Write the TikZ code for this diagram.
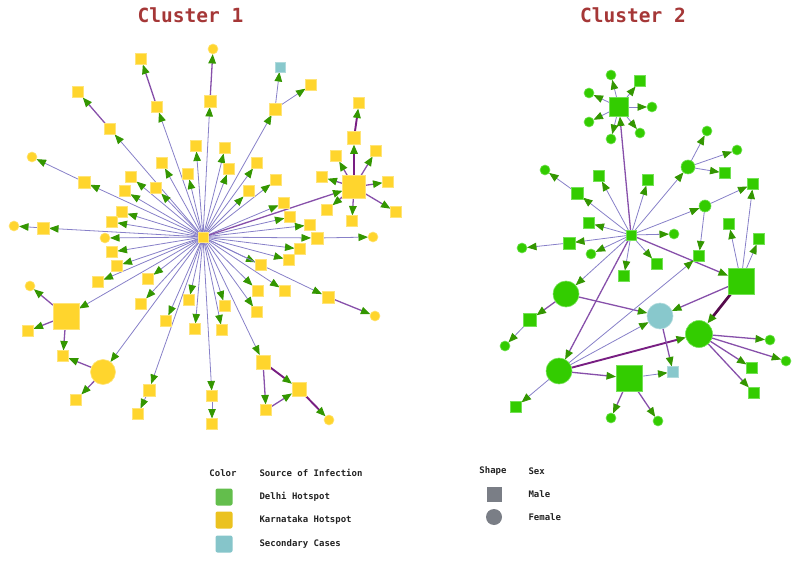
\documentclass[tikz,border=0pt]{standalone}
\usepackage{fontspec}
\newfontfamily\monof{DejaVu Sans Mono}
\usetikzlibrary{arrows.meta}
\definecolor{yel}{RGB}{255,213,45}
\definecolor{yelb}{RGB}{255,228,120}
\definecolor{grn}{RGB}{51,204,0}
\definecolor{grnb}{RGB}{115,225,85}
\definecolor{tea}{RGB}{136,200,204}
\definecolor{teab}{RGB}{175,218,220}
\definecolor{agrn}{RGB}{51,150,0}
\definecolor{lav}{RGB}{135,128,200}
\definecolor{pur}{RGB}{135,80,170}
\definecolor{dpur}{RGB}{120,30,130}
\definecolor{ddpur}{RGB}{85,10,75}
\definecolor{ttl}{RGB}{165,55,55}
\definecolor{lgrn}{RGB}{99,190,76}
\definecolor{lyel}{RGB}{235,194,31}
\definecolor{ltea}{RGB}{134,197,202}
\definecolor{lgry}{RGB}{122,126,134}
\definecolor{txt}{RGB}{35,35,35}
\pgfdeclarelayer{bg}
\pgfsetlayers{bg,main}
\tikzset{
 nd/.style={inner sep=0pt, outer sep=0pt, line width=0.6pt},
 ysq/.style={nd, rectangle, fill=yel, draw=yelb, minimum size=11pt},
 ycir/.style={nd, circle, fill=yel, draw=yelb, minimum size=10pt},
 gsq/.style={nd, rectangle, fill=grn, draw=grnb, minimum size=11pt},
 gcir/.style={nd, circle, fill=grn, draw=grnb, minimum size=10pt},
 tsq/.style={nd, rectangle, fill=tea, draw=teab, minimum size=11pt},
 tcir/.style={nd, circle, fill=tea, draw=teab, minimum size=10pt},
 arw/.style={-{Triangle[length=9.5pt,width=7.5pt,color=agrn]}},
 e1/.style={arw, draw=lav, line width=0.8pt},
 e2/.style={arw, draw=pur, line width=1.3pt},
 e3/.style={arw, draw=dpur, line width=1.9pt},
 e4/.style={arw, draw=ddpur, line width=2.7pt},
 ttlf/.style={font=\monof\bfseries\fontsize{19.5}{22}\selectfont, text=ttl},
 legf/.style={font=\monof\bfseries\fontsize{9}{11}\selectfont, text=txt},
 sw/.style={rectangle, rounded corners=2pt, minimum size=17pt, inner sep=0pt},
}
\begin{document}
\begin{tikzpicture}[x=1pt,y=-1pt]
\useasboundingbox (0,0) rectangle (800,561);
% titles
\node[ttlf] (t1) at (190.5,15) {Cluster 1};
\node[ttlf] (t2) at (633,15) {Cluster 2};
% ---------- Cluster 1 nodes
\node[ysq,minimum size=10pt] (h1) at (203,237) {};
\node[ysq] (a1) at (141,59) {};
\node[ysq] (a2) at (157,107) {};
\node[ysq] (b1) at (78,92) {};
\node[ysq] (b2) at (110,129) {};
\node[ycir] (c1) at (32,157) {};
\node[ysq,minimum size=12pt] (c2) at (84,182) {};
\node[ycir] (d1) at (14,226) {};
\node[ysq,minimum size=12pt] (d2) at (43,228) {};
\node[ysq] (n1) at (196,146) {};
\node[ysq] (n2) at (162,163) {};
\node[ysq] (n3) at (188,174) {};
\node[ysq] (n4) at (131,177) {};
\node[ysq] (n5) at (156,188) {};
\node[ysq] (n6) at (125,191) {};
\node[ysq] (n7) at (122,212) {};
\node[ysq] (n8) at (112,222) {};
\node[ycir] (n9) at (105,238) {};
\node[ysq] (n10) at (112,252) {};
\node[ysq] (n11) at (117,266) {};
\node[ysq] (n12) at (98,282) {};
\node[ysq] (n13) at (148,279) {};
\node[ysq] (n14) at (141,304) {};
\node[ysq] (n15) at (166,321) {};
\node[ysq] (n16) at (189,300) {};
\node[ysq] (n17) at (195,329) {};
\node[ysq,minimum size=26pt] (bs1) at (66,316) {};
\node[ycir] (bs1a) at (30,286) {};
\node[ysq] (bs1b) at (28,331) {};
\node[ysq] (bs1c) at (63,356) {};
\node[ycir,minimum size=25pt] (bc1) at (103,372) {};
\node[ysq] (bc1a) at (76,400) {};
\node[ysq,minimum size=12pt] (n18) at (149,390) {};
\node[ysq] (n18a) at (138,414) {};
\node[ysq] (n19) at (212,396) {};
\node[ysq] (n19a) at (212,424) {};
\node[ysq] (n20) at (222,330) {};
\node[ysq] (n21) at (257,312) {};
\node[ysq] (n22) at (225,306) {};
\node[ysq] (n23) at (258,291) {};
\node[ysq] (n24) at (285,291) {};
\node[ysq] (n25) at (261,265) {};
\node[ysq,minimum size=12pt] (n26) at (328,297) {};
\node[ycir] (n26a) at (375,316) {};
\node[ysq] (n27) at (289,260) {};
\node[ysq] (n28) at (300,249) {};
\node[ysq,minimum size=12pt] (n29) at (317,238) {};
\node[ycir] (n29a) at (373,237) {};
\node[ysq] (n30) at (310,225) {};
\node[ysq] (n31) at (290,217) {};
\node[ysq] (n32) at (284,203) {};
\node[ysq,minimum size=14pt] (m1) at (263,362) {};
\node[ysq,minimum size=14pt] (m2) at (299,389) {};
\node[ysq] (m3) at (266,410) {};
\node[ycir] (m4) at (329,420) {};
\node[ysq,minimum size=23pt] (bs2) at (354,187) {};
\node[ysq,minimum size=13pt] (k1) at (354,138) {};
\node[ysq] (k2) at (359,103) {};
\node[ysq] (k3) at (336,156) {};
\node[ysq] (k4) at (376,151) {};
\node[ysq] (k5) at (322,177) {};
\node[ysq] (k6) at (388,182) {};
\node[ysq] (k7) at (396,212) {};
\node[ysq] (k8) at (327,210) {};
\node[ysq] (k9) at (352,221) {};
\node[ysq] (n33) at (276,180) {};
\node[ysq] (n34) at (249,191) {};
\node[ysq] (n35) at (257,163) {};
\node[ysq] (n36) at (229,169) {};
\node[ysq] (n37) at (225,148) {};
\node[ysq,minimum size=12pt] (n38) at (275,109) {};
\node[tsq,minimum size=10pt] (n38a) at (280,67) {};
\node[ysq] (n38b) at (311,85) {};
\node[ysq,minimum size=12pt] (n39) at (210,101) {};
\node[ycir] (n39a) at (213,49) {};
% ---------- Cluster 2 nodes
\node[gsq,minimum size=10pt] (h2) at (631,235) {};
\node[gsq,minimum size=19pt] (g1) at (619,107) {};
\node[gcir] (g1a) at (611,75) {};
\node[gcir] (g1b) at (589,93) {};
\node[gcir] (g1c) at (589,122) {};
\node[gcir] (g1d) at (611,139) {};
\node[gcir] (g1e) at (640,133) {};
\node[gcir] (g1f) at (652,107) {};
\node[gsq] (g1g) at (640,81) {};
\node[gsq,minimum size=12pt] (g2) at (577,193) {};
\node[gcir] (g2a) at (545,170) {};
\node[gsq] (g3) at (599,176) {};
\node[gsq] (g4) at (648,180) {};
\node[gsq] (g5) at (589,223) {};
\node[gsq,minimum size=12pt] (g6) at (569,243) {};
\node[gcir] (g6a) at (522,248) {};
\node[gcir] (g7) at (591,254) {};
\node[gsq] (g8) at (624,276) {};
\node[gcir,minimum size=26pt] (gc1) at (566,294) {};
\node[gsq,minimum size=13pt] (gc1a) at (530,320) {};
\node[gcir] (gc1b) at (505,346) {};
\node[gcir,minimum size=26pt] (gc2) at (559,371) {};
\node[gsq] (gc2a) at (516,407) {};
\node[gsq,minimum size=26pt] (gs3) at (629,378) {};
\node[gcir] (gs3a) at (611,418) {};
\node[gcir] (gs3b) at (658,421) {};
\node[tcir,minimum size=26pt] (tc) at (660,316) {};
\node[tsq] (ts) at (673,372) {};
\node[gsq,minimum size=26pt] (gs2) at (741,281) {};
\node[gsq] (gs2a) at (729,224) {};
\node[gsq] (gs2b) at (759,239) {};
\node[gsq] (g12) at (753,184) {};
\node[gcir,minimum size=27pt] (gcm) at (699,334) {};
\node[gcir] (gcma) at (770,340) {};
\node[gcir] (gcmb) at (786,361) {};
\node[gsq] (gcmc) at (752,368) {};
\node[gsq] (gcmd) at (754,393) {};
\node[gsq] (g9) at (657,264) {};
\node[gcir] (g10) at (674,234) {};
\node[gcir,minimum size=14pt] (gm1) at (688,167) {};
\node[gcir] (gm1a) at (707,131) {};
\node[gcir] (gm1b) at (737,150) {};
\node[gsq] (gm1c) at (725,173) {};
\node[gcir,minimum size=12pt] (gm2) at (705,206) {};
\node[gsq] (g11) at (699,256) {};
% ---------- edges
\begin{pgfonlayer}{bg}
\foreach \t in {a2,b2,c2,d2,n1,n2,n3,n4,n5,n6,n7,n8,n9,n10,n11,n12,n13,n14,n15,n16,n17,bs1,bc1,n18,n19,n20,n21,n22,n23,n24,n25,n26,n27,n28,n29,n30,n31,n32,m1,n33,n34,n35,n36,n37,n38,n39}
  \draw[e1] (h1) -- (\t);
\draw[e2] (h1) -- (bs2);
\draw[e2] (a2) -- (a1);
\draw[e2] (b2) -- (b1);
\draw[e1] (c2) -- (c1);
\draw[e1] (d2) -- (d1);
\draw[e2] (bs1) -- (bs1a);
\draw[e2] (bs1) -- (bs1b);
\draw[e2] (bs1) -- (bs1c);
\draw[e2] (bc1) -- (bs1c);
\draw[e2] (bc1) -- (bc1a);
\draw[e1] (n18) -- (n18a);
\draw[e1] (n19) -- (n19a);
\draw[e2] (n26) -- (n26a);
\draw[e1] (n29) -- (n29a);
\draw[e3] (m1) -- (m2);
\draw[e2] (m1) -- (m3);
\draw[e2] (m3) -- (m2);
\draw[e3] (m2) -- (m4);
\draw[e3] (bs2) -- (k1);
\draw[e3] (k1) -- (k2);
\foreach \t in {k3,k4,k5,k6,k7,k8,k9}
  \draw[e2] (bs2) -- (\t);
\draw[e1] (n38) -- (n38a);
\draw[e1] (n38) -- (n38b);
\draw[e2] (n39) -- (n39a);
% cluster 2
\draw[e2] (h2) -- (g1);
\foreach \t in {g1a,g1b,g1c,g1d,g1e,g1f,g1g}
  \draw[e1] (g1) -- (\t);
\foreach \t in {g2,g3,g4,g5,g6,g7,g8,g9,g10,gm1,gm2,gc1}
  \draw[e1] (h2) -- (\t);
\draw[e2] (h2) -- (gc2);
\draw[e2] (h2) -- (gs2);
\draw[e1] (g2) -- (g2a);
\draw[e1] (g6) -- (g6a);
\draw[e2] (gc1) -- (gc1a);
\draw[e1] (gc1a) -- (gc1b);
\draw[e2] (gc1) -- (tc);
\draw[e1] (gc2) -- (gc2a);
\draw[e2] (gc2) -- (gs3);
\draw[e1] (gc2) -- (tc);
\draw[e3] (gc2) -- (gcm);
\draw[e1] (gc2) -- (g11);
\draw[e2] (gs3) -- (gs3a);
\draw[e2] (gs3) -- (gs3b);
\draw[e1] (gs3) -- (ts);
\draw[e2] (tc) -- (ts);
\draw[e1] (gs2) -- (gs2a);
\draw[e1] (gs2) -- (gs2b);
\draw[e1] (gs2) -- (g12);
\draw[e2] (gs2) -- (tc);
\draw[e4] (gs2) -- (gcm);
\foreach \t in {gcma,gcmb,gcmc,gcmd}
  \draw[e2] (gcm) -- (\t);
\foreach \t in {gm1a,gm1b,gm1c}
  \draw[e1] (gm1) -- (\t);
\draw[e1] (gm2) -- (g12);
\draw[e1] (gm2) -- (g11);
\end{pgfonlayer}
% ---------- legend
\node[legf] (lc) at (223,473) {Color};
\node[legf,anchor=west] (ls) at (256,473) {Source of Infection};
\node[sw,fill=lgrn] (sw1) at (224,497) {};
\node[sw,fill=lyel] (sw2) at (224,520) {};
\node[sw,fill=ltea] (sw3) at (224,544) {};
\node[legf,anchor=west] (l1) at (256,497) {Delhi Hotspot};
\node[legf,anchor=west] (l2) at (256,520) {Karnataka Hotspot};
\node[legf,anchor=west] (l3) at (256,544) {Secondary Cases};
\node[legf] (lsh) at (493,471) {Shape};
\node[legf,anchor=west] (lsx) at (525,471) {Sex};
\node[rectangle, fill=lgry, minimum size=15pt, inner sep=0pt] (lm) at (494,494) {};
\node[circle, fill=lgry, minimum size=16pt, inner sep=0pt] (lf) at (494,517) {};
\node[legf,anchor=west] (lma) at (525,494) {Male};
\node[legf,anchor=west] (lfe) at (525,517) {Female};
\end{tikzpicture}
\end{document}
